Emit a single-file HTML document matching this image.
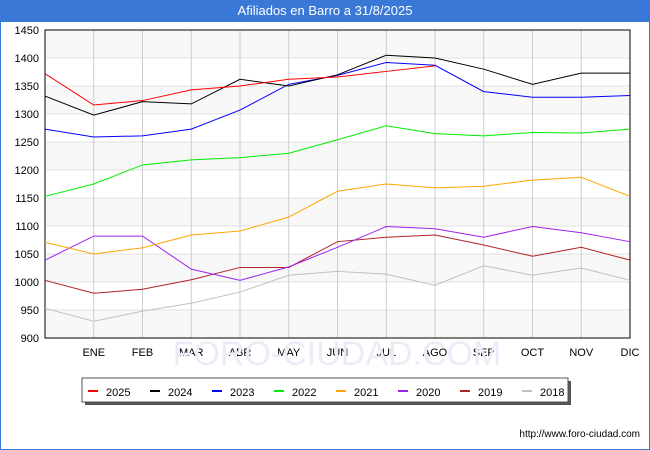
<!DOCTYPE html>
<html><head><meta charset="utf-8"><style>
body{margin:0;width:650px;height:450px;overflow:hidden;font-family:"Liberation Sans",sans-serif;background:#fff}
#frame{position:absolute;left:0;top:0;width:648px;height:448px;border:1px solid #3a78d8}
#title{position:absolute;left:0;top:0;width:650px;height:22px;background:#3a78d8;color:#fff;font-size:13px;line-height:22px;text-align:center}
</style></head><body>
<div id="frame"></div>
<div id="title">Afiliados en Barro a 31/8/2025</div>
<svg id="c" width="650" height="450" style="position:absolute;left:0;top:0"></svg>
<script>
const months=["","ENE","FEB","MAR","ABR","MAY","JUN","JUL","AGO","SEP","OCT","NOV","DIC"];
const yTicks=[900,950,1000,1050,1100,1150,1200,1250,1300,1350,1400,1450];
const seriesNames=["2025","2024","2023","2022","2021","2020","2019","2018"];
const seriesColors=["#ff0000","#000000","#0000ff","#00ee00","#ffa500","#a020f0","#b22222","#c0c0c0"];
const s2025=[1372,1316,1324,1343,1350,1362,1366,1376,1386];
const s2024=[1332,1298,1322,1318,1362,1350,1370,1405,1400,1380,1353,1373,1373];
const s2023=[1273,1259,1261,1273,1307,1353,1369,1392,1387,1340,1330,1330,1333];
const s2022=[1153,1175,1209,1218,1222,1230,1254,1279,1265,1261,1267,1266,1273];
const s2021=[1071,1050,1061,1084,1091,1116,1162,1175,1168,1171,1182,1187,1153];
const s2020=[1039,1082,1082,1023,1003,1027,1062,1099,1095,1080,1099,1088,1072];
const s2019=[1003,980,987,1004,1026,1026,1072,1080,1084,1066,1046,1062,1039];
const s2018=[953,930,948,962,982,1012,1019,1014,994,1029,1012,1025,1003];
const allSeries=[s2025,s2024,s2023,s2022,s2021,s2020,s2019,s2018];
const L=45,R=630,T=30,B=338,ymin=900,ymax=1450;
const X=i=>L+i*(R-L)/12, Y=v=>B-(v-ymin)/(ymax-ymin)*(B-T);
const svg=document.getElementById('c');const NS="http://www.w3.org/2000/svg";
function mk(t,a,p){const e=document.createElementNS(NS,t);for(const k in a)e.setAttribute(k,a[k]);(p||svg).appendChild(e);return e;}
for(let i=0;i<yTicks.length-1;i++){if(i%2==0){const r=mk('rect',{x:L,y:Y(yTicks[i+1]),width:R-L,height:Y(yTicks[i])-Y(yTicks[i+1]),fill:'#f8f8f8'});}}
yTicks.forEach(v=>{const l=mk('line',{x1:L,x2:R,y1:Y(v),y2:Y(v),stroke:'#e0e0e0'});
const t=mk('text',{x:L-6,y:Y(v)+4,'text-anchor':'end','font-size':11,fill:'#000'});t.textContent=v;});
months.forEach((m,i)=>{if(i>0){const l=mk('line',{x1:X(i),x2:X(i),y1:T,y2:B,stroke:'#cccccc'});}
const t=mk('text',{x:X(i),y:B+18,'text-anchor':'middle','font-size':11,fill:'#000'});t.textContent=m;});
const wm=mk('text',{x:337,y:365,'text-anchor':'middle','font-size':34,fill:'#ececf8'});wm.textContent='FORO-CIUDAD.COM';
const ax=mk('rect',{x:L,y:T,width:R-L,height:B-T,fill:'none',stroke:'#000'});
for(let k=allSeries.length-1;k>=0;k--){const d=allSeries[k].map((v,i)=>X(i)+','+Y(v)).join(' ');
const p=mk('polyline',{points:d,fill:'none',stroke:seriesColors[k],'stroke-width':1});}
const g=mk('g',{});
mk('rect',{x:85,y:381,width:486,height:24,fill:'#555'},g);
mk('rect',{x:82,y:378,width:486,height:24,fill:'#fff',stroke:'#555'},g);
seriesNames.forEach((n,k)=>{const x=88+k*62;const e=mk('g',{},g);
mk('rect',{x:x,y:390,width:10,height:2,fill:seriesColors[k]},e);
const t=mk('text',{x:x+18,y:396,'font-size':11,fill:'#000'},e);t.textContent=n;});
const u=mk('text',{x:640,y:437,'text-anchor':'end','font-size':10,fill:'#000'});u.textContent='http://www.foro-ciudad.com';
</script>
</body></html>
